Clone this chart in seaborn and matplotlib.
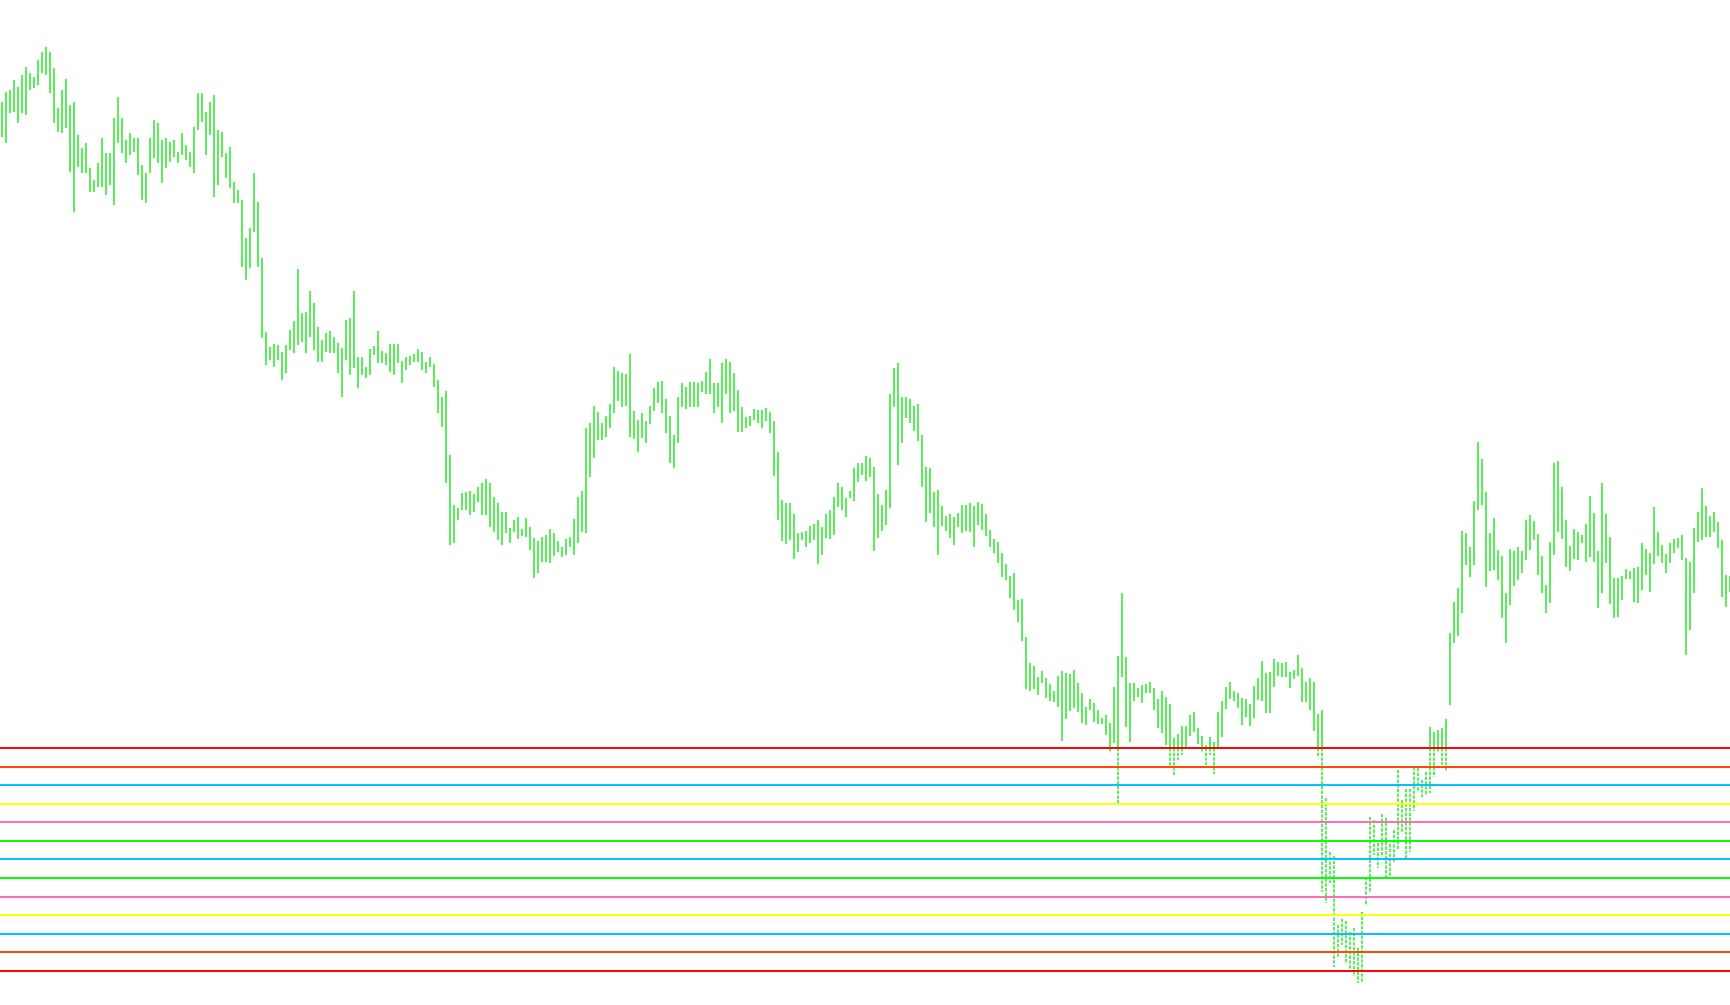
import matplotlib.pyplot as plt
import numpy as np
import seaborn as sns

# Bar tops and bottoms (screen rows, 0 = top of chart), one bar every 4 px
bar_top = [
    102, 92, 90, 80, 87, 75, 67, 73, 77, 60,
    52, 47, 52, 68, 108, 90, 79, 105, 102, 135,
    148, 143, 168, 180, 163, 138, 153, 153, 118, 97,
    118, 140, 133, 138, 138, 165, 173, 138, 120, 123,
    140, 138, 142, 140, 152, 133, 145, 152, 127, 93,
    93, 112, 102, 95, 130, 132, 153, 147, 182, 190,
    200, 238, 228, 173, 202, 258, 332, 347, 344, 345,
    352, 345, 330, 321, 269, 313, 312, 291, 303, 327,
    340, 333, 331, 337, 343, 348, 320, 318, 291, 357,
    357, 367, 349, 346, 331, 351, 353, 344, 344, 344,
    361, 357, 356, 354, 349, 352, 362, 357, 364, 380,
    397, 391, 455, 505, 508, 493, 492, 491, 494, 487,
    483, 479, 483, 497, 503, 512, 512, 528, 520, 517,
    529, 518, 527, 538, 541, 537, 535, 529, 533, 541,
    547, 539, 537, 519, 497, 491, 428, 423, 406, 412,
    423, 416, 404, 367, 371, 373, 374, 354, 411, 420,
    413, 421, 406, 388, 382, 381, 399, 416, 435, 397,
    383, 387, 382, 382, 383, 381, 372, 359, 383, 383,
    363, 359, 362, 373, 390, 407, 417, 416, 409, 410,
    410, 408, 412, 421, 452, 500, 503, 503, 514, 533,
    532, 531, 526, 524, 520, 527, 514, 510, 497, 483,
    487, 498, 491, 468, 463, 463, 456, 458, 467, 494,
    505, 490, 394, 368, 363, 397, 397, 399, 406, 404,
    435, 467, 468, 492, 490, 506, 516, 514, 517, 513,
    505, 505, 503, 506, 502, 504, 514, 530, 539, 542,
    553, 564, 576, 573, 600, 599, 637, 663, 666, 677,
    671, 678, 684, 691, 676, 671, 673, 674, 670, 683,
    693, 707, 699, 703, 710, 718, 715, 723, 687, 656,
    593, 657, 683, 683, 688, 685, 684, 682, 688, 699,
    691, 697, 704, 738, 734, 726, 726, 715, 712, 728,
    736, 745, 737, 742, 712, 701, 687, 682, 691, 693,
    698, 699, 704, 686, 678, 661, 673, 672, 659, 662,
    663, 662, 672, 670, 655, 668, 682, 678, 682, 714,
    710, 798, 852, 856, 925, 919, 921, 932, 928, 948,
    912, 877, 817, 820, 843, 814, 818, 844, 830, 770,
    800, 789, 789, 767, 768, 780, 772, 727, 732, 730,
    728, 719, 633, 602, 588, 531, 533, 547, 501, 442,
    459, 492, 533, 518, 550, 556, 593, 549, 551, 547,
    551, 520, 515, 521, 534, 556, 585, 542, 463, 461,
    487, 520, 546, 529, 532, 535, 524, 496, 513, 551,
    483, 514, 537, 578, 578, 576, 569, 571, 568, 567,
    543, 549, 553, 507, 532, 545, 554, 543, 539, 538,
    535, 558, 562, 528, 512, 488, 506, 516, 512, 522,
    540, 575, 576,
]
bar_bottom = [
    137, 143, 113, 112, 123, 113, 115, 90, 88, 85,
    73, 75, 93, 123, 132, 133, 128, 172, 212, 167,
    173, 173, 192, 192, 187, 187, 195, 185, 205, 143,
    153, 163, 155, 152, 175, 200, 203, 173, 158, 163,
    183, 168, 162, 157, 163, 155, 160, 167, 173, 130,
    122, 155, 135, 197, 185, 157, 178, 188, 203, 203,
    267, 280, 268, 232, 267, 338, 365, 360, 367, 360,
    380, 373, 350, 353, 345, 342, 353, 337, 350, 362,
    362, 352, 353, 353, 373, 397, 360, 375, 368, 388,
    375, 378, 375, 355, 363, 363, 365, 372, 375, 363,
    383, 370, 365, 362, 362, 370, 373, 367, 387, 413,
    427, 483, 545, 543, 520, 510, 510, 515, 512, 502,
    515, 515, 527, 532, 540, 545, 533, 543, 532, 539,
    536, 537, 550, 578, 573, 562, 562, 563, 556, 552,
    557, 555, 547, 555, 543, 532, 533, 477, 458, 440,
    440, 437, 428, 413, 401, 407, 406, 437, 439, 452,
    438, 443, 424, 411, 403, 413, 433, 463, 468, 443,
    407, 409, 407, 407, 407, 392, 394, 394, 413, 407,
    423, 394, 413, 411, 432, 432, 428, 426, 420, 423,
    428, 421, 433, 476, 520, 541, 544, 540, 559, 552,
    540, 547, 543, 540, 564, 555, 538, 539, 535, 507,
    510, 517, 498, 501, 482, 475, 481, 477, 551, 538,
    531, 525, 508, 407, 465, 443, 418, 423, 431, 441,
    487, 522, 513, 527, 555, 526, 531, 538, 545, 527,
    533, 531, 532, 547, 525, 530, 536, 547, 553, 563,
    577, 580, 598, 610, 622, 641, 689, 691, 689, 695,
    683, 698, 701, 702, 707, 741, 719, 711, 708, 712,
    723, 725, 710, 722, 724, 724, 735, 753, 743, 803,
    677, 727, 742, 701, 697, 703, 693, 693, 710, 728,
    733, 745, 767, 776, 760, 755, 747, 736, 732, 744,
    753, 765, 755, 774, 748, 737, 709, 699, 701, 708,
    725, 717, 726, 718, 700, 701, 713, 713, 687, 676,
    677, 677, 688, 679, 676, 702, 702, 710, 731, 757,
    892, 903, 883, 967, 957, 945, 964, 970, 976, 983,
    983, 906, 892, 855, 868, 857, 879, 876, 863, 849,
    832, 858, 852, 811, 792, 797, 796, 793, 777, 752,
    765, 771, 705, 643, 636, 613, 565, 577, 565, 510,
    505, 587, 571, 570, 580, 618, 643, 605, 586, 580,
    573, 560, 550, 540, 575, 593, 613, 603, 555, 532,
    539, 567, 571, 559, 560, 543, 562, 557, 562, 608,
    593, 563, 604, 618, 617, 600, 579, 579, 602, 603,
    590, 575, 592, 564, 556, 563, 573, 563, 553, 548,
    560, 655, 630, 593, 542, 540, 537, 537, 532, 548,
    597, 607, 592,
]

# Horizontal levels, top to bottom
level_y = [748, 766.5, 785, 803.5, 822, 840.5, 859, 877.5, 896.5, 915, 933.5, 952, 970.5]
level_colors = [
    "#FF0000", "#FF4500", "#00BFFF", "#FFFF00", "#FF69B4", "#00FF00", "#00BFFF",
    "#00FF00", "#FF69B4", "#FFFF00", "#00BFFF", "#FF4500", "#FF0000",
]

sns.set_theme(style="white")

fig = plt.figure(figsize=(17.3, 10.05), dpi=100)
ax = fig.add_axes([0, 0, 1, 1])

x = np.arange(len(bar_top))
top = np.array(bar_top, dtype=float)
bot = np.array(bar_bottom, dtype=float)
cut = level_y[0]
bar_color = "#2BE82B"

# solid above the first level, dashed below it
above = top < cut
ax.vlines(x[above], top[above], np.minimum(bot[above], cut), color=bar_color, lw=1.1)
below = bot > cut
ax.vlines(x[below], np.maximum(top[below], cut), bot[below], color=bar_color, lw=1.1,
          linestyles=[(0, (2.2, 0.9))])

for y, c in zip(level_y, level_colors):
    ax.axhline(y, color=c, lw=1.4, zorder=3)

ax.set_xlim(-0.5, 432)
ax.set_ylim(1005, 0)
ax.axis("off")

fig.savefig("out.png", dpi=100, facecolor="white")
